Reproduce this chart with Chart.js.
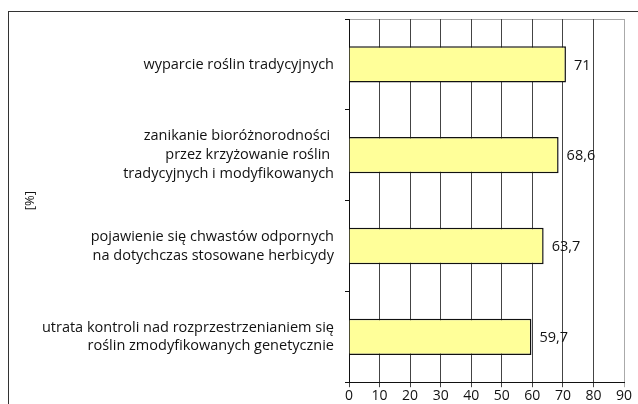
<!DOCTYPE html>
<html>
<head>
<meta charset="utf-8">
<script src="https://cdn.jsdelivr.net/npm/chart.js@4"></script>
<style>
  html, body { margin: 0; padding: 0; background: #fff; }
  #wrap { width: 638px; height: 404px; }
</style>
</head>
<body>
<div id="wrap"><canvas id="myChart"></canvas></div>
<script>
// Etykiety kategorii (od gory)
const kategorie = [
  ['wyparcie roślin tradycyjnych'],
  ['zanikanie bioróżnorodności ', 'przez krzyżowanie roślin ', 'tradycyjnych i modyfikowanych'],
  ['pojawienie się chwastów odpornych', 'na dotychczas stosowane herbicydy'],
  ['utrata kontroli nad rozprzestrzenianiem się', 'roślin zmodyfikowanych genetycznie']
];
const wartosci = [71, 68.6, 63.7, 59.7];
const osX = [0, 10, 20, 30, 40, 50, 60, 70, 80, 90];
const tytulY = '[%]';

const czcionka = "'Open Sans', 'Noto Sans', sans-serif";

// Liczby z przecinkiem
function formatPL(v){
  return String(v).replace('.', ',');
}

// Ramka wokol calego wykresu + gorna krawedz obszaru
const ramka = {
  id: 'ramka',
  beforeDraw(chart){
    const c = chart.ctx;
    c.save();
    c.strokeStyle = '#333';
    c.lineWidth = 1;
    c.strokeRect(8.5, 11.5, 700, 500);
    const a = chart.chartArea;
    c.strokeStyle = '#aaa';
    c.beginPath();
    c.moveTo(a.left, Math.round(a.top) + 0.5);
    c.lineTo(a.right, Math.round(a.top) + 0.5);
    c.stroke();
    c.restore();
  }
};

// Etykiety wartosci za slupkami
const etykiety = {
  id: 'etykiety',
  afterDatasetsDraw(chart){
    const c = chart.ctx;
    const meta = chart.getDatasetMeta(0);
    c.save();
    c.font = '14.5px ' + czcionka;
    c.fillStyle = '#111';
    c.textAlign = 'left';
    c.textBaseline = 'middle';
    meta.data.forEach((bar, i) => {
      c.fillText(formatPL(wartosci[i]), bar.x + 8, bar.y + 1);
    });
    c.restore();
  }
};

const ctx = document.getElementById('myChart');

new Chart(ctx, {
  type: 'bar',
  data: {
    labels: kategorie,
    datasets: [{
      data: wartosci,
      backgroundColor: '#FFFF99',
      borderColor: '#111',
      borderWidth: 1.5,
      barPercentage: 0.4,
      categoryPercentage: 1
    }]
  },
  options: {
    indexAxis: 'y',
    responsive: true,
    maintainAspectRatio: false,
    animation: false,
    layout: {
      padding: { top: 19, right: 14, left: 0, bottom: 0 }
    },
    plugins: {
      legend: { display: false },
      tooltip: { enabled: false }
    },
    scales: {
      x: {
        min: osX[0],
        max: osX[osX.length - 1],
        afterBuildTicks(scale){
          scale.ticks = osX.map(v => ({ value: v }));
        },
        grid: {
          color(c){ return c.tick && c.tick.value === 90 ? '#aaa' : '#444'; },
          tickLength: 5,
          drawTicks: true
        },
        border: { color: '#111', width: 1 },
        ticks: {
          color: '#111',
          font: { family: czcionka, size: 14 },
          padding: 0,
          maxRotation: 0
        }
      },
      y: {
        afterFit(scale){
          scale.width = 349;
          scale.paddingTop = 0;
          scale.paddingBottom = 0;
        },
        grid: {
          offset: true,
          drawOnChartArea: false,
          tickLength: 4,
          color: '#111'
        },
        border: { color: '#111', width: 1 },
        ticks: {
          color: '#111',
          font: { family: czcionka, size: 14.5, lineHeight: 1.3 },
          padding: 11
        },
        title: {
          display: true,
          text: tytulY,
          color: '#111',
          font: { family: czcionka, size: 13 },
          padding: { top: 22 }
        }
      }
    }
  },
  plugins: [ramka, etykiety]
});
</script>
</body>
</html>
